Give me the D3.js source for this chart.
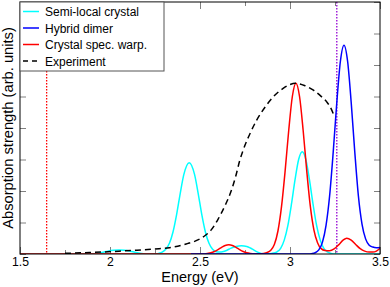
<!DOCTYPE html>
<html>
<head>
<meta charset="utf-8">
<script src="https://cdn.jsdelivr.net/npm/d3@7"></script>
<style>
body{margin:0;background:#fff;}
svg{display:block;font-family:"Liberation Sans",Arial,sans-serif;}
</style>
</head>
<body>
<svg id="chart" width="390" height="287"></svg>
<script>
// ---- data ----
const seriesNames = ["Semi-local crystal","Hybrid dimer","Crystal spec. warp.","Experiment"];
const xTickMajor = [1.5,2,2.5,3,3.5];
const xTickMinor = [1.75,2.25,2.75,3.25];
const yTicks = [0,1,2,3,4,5,6,7,8];
const vLines = [1.648, 3.26];

const semiLocal = [[1.50,0],[1.90,0],[1.94,0.03],[1.98,0.08],[2.02,0.12],[2.05,0.13],[2.08,0.12],[2.12,0.08],[2.16,0.03],[2.20,0],[2.25,0],[2.27,0.02],[2.29,0.06],[2.31,0.15],[2.33,0.34],[2.35,0.70],[2.37,1.25],[2.39,1.92],[2.41,2.52],[2.44,2.90],[2.47,2.52],[2.49,1.92],[2.51,1.25],[2.53,0.70],[2.55,0.34],[2.57,0.15],[2.59,0.07],[2.61,0.06],[2.63,0.08],[2.65,0.12],[2.67,0.18],[2.70,0.24],[2.73,0.26],[2.76,0.24],[2.78,0.19],[2.80,0.12],[2.82,0.06],[2.84,0.02],[2.86,0.01],[2.888,0.01],[2.908,0.03],[2.928,0.07],[2.948,0.18],[2.968,0.44],[2.988,0.90],[3.008,1.58],[3.028,2.36],[3.048,3.00],[3.068,3.25],[3.088,3.00],[3.108,2.36],[3.128,1.58],[3.148,0.90],[3.168,0.44],[3.188,0.18],[3.208,0.07],[3.228,0.02],[3.25,0],[3.50,0]];

const hybridDimer = [[2.45,0],[3.10,0],[3.12,0.01],[3.14,0.04],[3.16,0.13],[3.18,0.37],[3.20,0.90],[3.22,1.84],[3.24,3.23],[3.26,4.81],[3.28,6.12],[3.30,6.63],[3.32,6.12],[3.34,4.81],[3.36,3.23],[3.38,1.84],[3.40,0.95],[3.42,0.48],[3.44,0.28],[3.46,0.22],[3.48,0.20],[3.50,0.21]];

const crystalWarp = [[1.50,0],[2.52,0],[2.54,0.02],[2.56,0.04],[2.58,0.08],[2.60,0.14],[2.62,0.21],[2.64,0.27],[2.66,0.29],[2.68,0.27],[2.70,0.21],[2.72,0.14],[2.74,0.08],[2.76,0.04],[2.78,0.02],[2.80,0.01],[2.833,0.01],[2.853,0.02],[2.873,0.05],[2.893,0.12],[2.913,0.30],[2.933,0.73],[2.953,1.51],[2.973,2.64],[2.993,3.93],[3.013,5.00],[3.033,5.42],[3.053,5.00],[3.073,3.93],[3.093,2.64],[3.113,1.51],[3.133,0.76],[3.153,0.36],[3.173,0.17],[3.195,0.11],[3.22,0.10],[3.245,0.16],[3.27,0.29],[3.295,0.44],[3.315,0.50],[3.34,0.44],[3.365,0.30],[3.39,0.17],[3.415,0.09],[3.44,0.06],[3.46,0.06],[3.48,0.09],[3.50,0.18]];

const experiment = [[1.75,0.02],[1.85,0.04],[1.95,0.06],[2.05,0.09],[2.15,0.12],[2.25,0.16],[2.33,0.20],[2.40,0.28],[2.43,0.33],[2.47,0.40],[2.52,0.55],[2.56,0.75],[2.60,1.10],[2.64,1.55],[2.67,1.95],[2.70,2.50],[2.72,2.95],[2.74,3.30],[2.78,3.85],[2.815,4.25],[2.86,4.65],[2.907,4.99],[2.96,5.25],[3.00,5.38],[3.03,5.42],[3.08,5.35],[3.13,5.20],[3.17,5.02],[3.204,4.83],[3.225,4.65],[3.24,4.46]];

// ---- chart ----
const svg = d3.select("#chart");
const L = 20, R = 380, T = 2, B = 254;
const x = d3.scaleLinear().domain([1.5,3.5]).range([L,R]);
const y = d3.scaleLinear().domain([0,8]).range([B,T]);

svg.append("defs").append("clipPath").attr("id","clip")
  .append("rect").attr("x",L).attr("y",T).attr("width",R-L).attr("height",B-T);

const tickColor = "#808080";
function styleAxis(g){
  g.select(".domain").remove();
  g.selectAll(".tick line").attr("stroke",tickColor);
}
// bottom
svg.append("g").attr("transform",`translate(0,${B})`)
  .call(d3.axisBottom(x).tickValues(xTickMajor).tickSize(-7).tickPadding(3).tickFormat(d3.format("")))
  .call(styleAxis)
  .call(g=>g.selectAll("text").attr("font-size","12.2px").attr("fill","#000").attr("font-family","Liberation Sans, Arial, sans-serif"));
svg.append("g").attr("transform",`translate(0,${B})`)
  .call(d3.axisBottom(x).tickValues(xTickMinor).tickSize(-4).tickFormat(""))
  .call(styleAxis);
// top
svg.append("g").attr("transform",`translate(0,${T})`)
  .call(d3.axisTop(x).tickValues(xTickMajor).tickSize(-7).tickFormat(""))
  .call(styleAxis);
svg.append("g").attr("transform",`translate(0,${T})`)
  .call(d3.axisTop(x).tickValues(xTickMinor).tickSize(-4).tickFormat(""))
  .call(styleAxis);
// left/right
svg.append("g").attr("transform",`translate(${L},0)`)
  .call(d3.axisLeft(y).tickValues(yTicks).tickSize(-6).tickFormat(""))
  .call(styleAxis);
svg.append("g").attr("transform",`translate(${R},0)`)
  .call(d3.axisRight(y).tickValues(yTicks).tickSize(-6).tickFormat(""))
  .call(styleAxis);

const plot = svg.append("g").attr("clip-path","url(#clip)");

// vertical dotted lines
const vColors = ["#ff0000","#9400d3"];
plot.selectAll("line.v").data(vLines).join("line")
  .attr("x1",d=>x(d)).attr("x2",d=>x(d))
  .attr("y1",y(8)).attr("y2",y(0))
  .attr("stroke",(d,i)=>vColors[i]).attr("stroke-width",1.3)
  .attr("stroke-dasharray","1.5,1.5");

const line = d3.line().x(d=>x(d[0])).y(d=>y(d[1])).curve(d3.curveMonotoneX);

const series = [
  {data: semiLocal, color:"#00ffff", dash:null},
  {data: crystalWarp, color:"#ff0000", dash:null},
  {data: hybridDimer, color:"#0000ff", dash:null},
  {data: experiment, color:"#000000", dash:"6,4"}
];
series.forEach(s=>{
  plot.append("path").attr("d",line(s.data)).attr("fill","none")
    .attr("stroke",s.color).attr("stroke-width",1.5)
    .attr("stroke-dasharray",s.dash);
});

// frame
svg.append("rect").attr("x",L).attr("y",T).attr("width",R-L).attr("height",B-T)
  .attr("fill","none").attr("stroke","#000").attr("stroke-width",1);

// legend
const leg = svg.append("g");
leg.append("rect").attr("x",L).attr("y",T).attr("width",144).attr("height",69)
  .attr("fill","#fff").attr("stroke","#555").attr("stroke-width",1);
const legColors = ["#00ffff","#0000ff","#ff0000","#000000"];
const legDash = [null,null,null,"5,4"];
seriesNames.forEach((n,i)=>{
  const by = 16 + i*16.5;
  leg.append("line").attr("x1",23).attr("x2",39).attr("y1",by-4.5).attr("y2",by-4.5)
    .attr("stroke",legColors[i]).attr("stroke-width",1.5).attr("stroke-dasharray",legDash[i]);
  leg.append("text").attr("x",45).attr("y",by).attr("font-size","12px").attr("fill","#000").text(n);
});

// axis titles
svg.append("text").attr("x",(L+R)/2).attr("y",282).attr("text-anchor","middle")
  .attr("font-size","14.5px").text("Energy (eV)");
svg.append("text").attr("transform",`translate(13,${(T+B)/2}) rotate(-90)`)
  .attr("text-anchor","middle").attr("font-size","14.7px").text("Absorption strength (arb. units)");
</script>
</body>
</html>
